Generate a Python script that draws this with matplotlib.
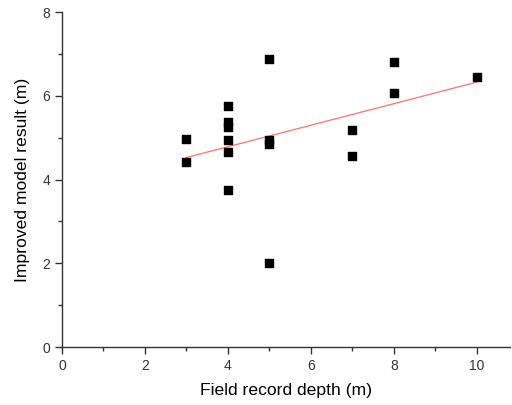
import numpy as np
import matplotlib
matplotlib.use("Agg")
import matplotlib.pyplot as plt
from matplotlib.ticker import MultipleLocator

plt.rcParams['font.family'] = ['Liberation Sans', 'DejaVu Sans']

# field record depth vs improved model result (m)
field_depth = [3, 3, 4, 4, 4, 4, 4, 4, 5, 5, 5, 5, 7, 7, 8, 8, 10]
model_result = [4.98, 4.42, 5.77, 5.38, 5.26, 4.95, 4.67, 3.76,
                6.87, 4.95, 4.86, 2.01, 5.19, 4.57, 6.82, 6.08, 6.46]

fig = plt.figure(figsize=(5.12, 4.05), dpi=100)
ax = fig.add_axes([0.121, 0.143, 0.875, 0.827])

ax.scatter(field_depth, model_result, marker='s', s=40, color='black', zorder=3)

# linear fit drawn over data range
slope, icpt = np.polyfit(field_depth, model_result, 1)
xf = np.array([min(field_depth), max(field_depth)])
ax.plot(xf, slope * xf + icpt, color='#ff7070', lw=0.9, zorder=2)

ax.set_xlim(0, 10.8)
ax.set_ylim(0, 8)
ax.xaxis.set_major_locator(MultipleLocator(2))
ax.xaxis.set_minor_locator(MultipleLocator(1))
ax.yaxis.set_major_locator(MultipleLocator(2))
ax.yaxis.set_minor_locator(MultipleLocator(1))

for s in ['top', 'right']:
    ax.spines[s].set_visible(False)
for s in ['left', 'bottom']:
    ax.spines[s].set_color('#333333')
    ax.spines[s].set_linewidth(1.0)

ax.tick_params(which='major', direction='out', length=5, width=1, colors='#333333', labelsize=10)
ax.tick_params(which='minor', direction='out', length=3, width=1, colors='#333333')

ax.set_xlabel('Field record depth (m)', fontsize=12.6, labelpad=7)
ax.set_ylabel('Improved model result (m)', fontsize=12.6, labelpad=9)

fig.savefig('out.png', dpi=100)
